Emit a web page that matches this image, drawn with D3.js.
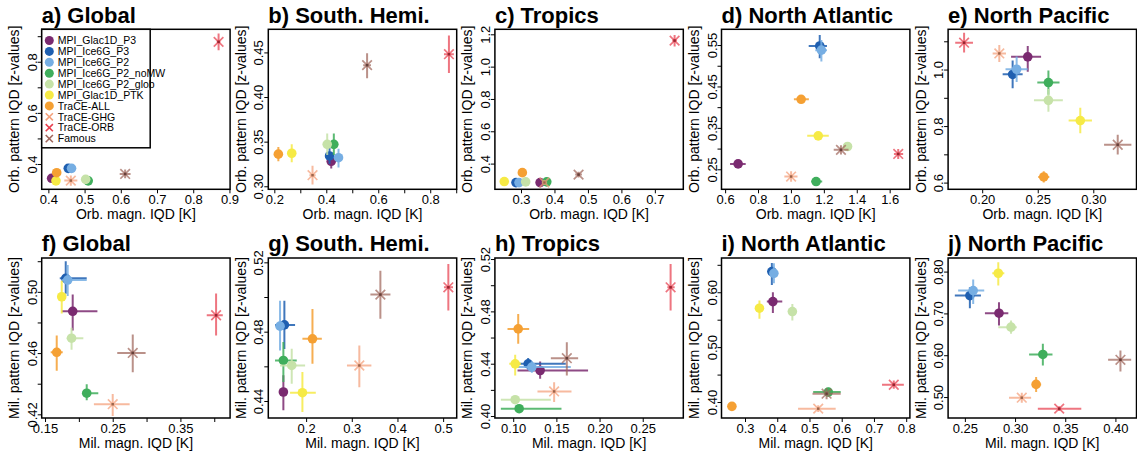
<!DOCTYPE html>
<html>
<head>
<meta charset="utf-8">
<script src="https://cdn.jsdelivr.net/npm/d3@7"></script>
<style>
  html, body { margin: 0; padding: 0; background: #ffffff; }
  svg { display: block; font-family: "Liberation Sans", Arial, Helvetica, sans-serif; }
</style>
</head>
<body>
<svg id="chart" width="1137" height="457"></svg>
<script>
// ---- simulations (legend order) ----
const models = ["MPI_Glac1D_P3", "MPI_Ice6G_P3", "MPI_Ice6G_P2", "MPI_Ice6G_P2_noMW",
  "MPI_Ice6G_P2_glob", "MPI_Glac1D_PTK", "TraCE-ALL", "TraCE-GHG", "TraCE-ORB", "Famous"];
const modelColors = ["#7a2a70", "#1f5fb0", "#76aee3", "#3fae5c", "#c6e2a8",
  "#f6ea45", "#f5a033", "#f4a07a", "#e8404f", "#a0665c"];
const modelShapes = ["dot", "dot", "dot", "dot", "dot", "dot", "dot", "cross", "cross", "cross"];

// ---- rows: [magnitude IQD, pattern IQD, magn. low, magn. high, pattern low, pattern high] ----
const orbGlobal = [
  [0.409, 0.344, 0.403, 0.415, 0.336, 0.352],
  [0.455, 0.383, 0.449, 0.461, 0.377, 0.389],
  [0.464, 0.383, 0.458, 0.470, 0.377, 0.389],
  [0.510, 0.334, 0.504, 0.516, 0.328, 0.340],
  [0.503, 0.340, 0.497, 0.509, 0.334, 0.346],
  [0.421, 0.334, 0.415, 0.427, 0.328, 0.340],
  [0.423, 0.366, 0.410, 0.432, 0.358, 0.374],
  [0.462, 0.335, 0.444, 0.480, 0.315, 0.355],
  [0.870, 0.878, 0.865, 0.875, 0.845, 0.911],
  [0.612, 0.361, 0.597, 0.627, 0.344, 0.378]
];
const orbSouth = [
  [0.419, 0.328, 0.412, 0.426, 0.320, 0.336],
  [0.4125, 0.334, 0.405, 0.420, 0.325, 0.343],
  [0.447, 0.332, 0.440, 0.454, 0.321, 0.342],
  [0.429, 0.347, 0.422, 0.436, 0.335, 0.359],
  [0.4035, 0.347, 0.396, 0.411, 0.335, 0.359],
  [0.267, 0.337, 0.258, 0.276, 0.327, 0.347],
  [0.2155, 0.336, 0.207, 0.224, 0.328, 0.344],
  [0.347, 0.3124, 0.335, 0.359, 0.302, 0.323],
  [0.872, 0.448, 0.853, 0.891, 0.427, 0.469],
  [0.557, 0.4357, 0.542, 0.572, 0.421, 0.449]
];
const orbTropics = [
  [0.357, 0.2825, 0.350, 0.364, 0.275, 0.290],
  [0.285, 0.2825, 0.278, 0.292, 0.275, 0.290],
  [0.294, 0.2825, 0.287, 0.301, 0.275, 0.290],
  [0.377, 0.287, 0.370, 0.384, 0.279, 0.295],
  [0.314, 0.287, 0.307, 0.321, 0.279, 0.295],
  [0.250, 0.289, 0.243, 0.257, 0.281, 0.297],
  [0.304, 0.344, 0.297, 0.311, 0.336, 0.352],
  [0.370, 0.283, 0.362, 0.378, 0.268, 0.298],
  [0.759, 1.161, 0.752, 0.766, 1.125, 1.195],
  [0.472, 0.332, 0.462, 0.482, 0.314, 0.350]
];
const orbNAtl = [
  [0.679, 0.263, 0.630, 0.725, 0.255, 0.271],
  [1.175, 0.5477, 1.108, 1.219, 0.518, 0.574],
  [1.185, 0.5377, 1.148, 1.219, 0.510, 0.562],
  [1.153, 0.2204, 1.123, 1.190, 0.214, 0.227],
  [1.344, 0.305, 1.320, 1.370, 0.297, 0.313],
  [1.166, 0.3307, 1.099, 1.230, 0.323, 0.339],
  [1.062, 0.419, 1.018, 1.109, 0.411, 0.427],
  [1.001, 0.2325, 0.960, 1.040, 0.220, 0.245],
  [1.652, 0.287, 1.626, 1.682, 0.275, 0.299],
  [1.304, 0.297, 1.260, 1.350, 0.286, 0.308]
];
const orbNPac = [
  [0.241, 1.045, 0.226, 0.253, 0.992, 1.083],
  [0.2274, 0.983, 0.2184, 0.2364, 0.934, 1.032],
  [0.231, 1.001, 0.221, 0.241, 0.956, 1.046],
  [0.2596, 0.954, 0.2496, 0.2696, 0.911, 0.997],
  [0.2596, 0.891, 0.2466, 0.2726, 0.851, 0.931],
  [0.2883, 0.8196, 0.2778, 0.2988, 0.775, 0.865],
  [0.2554, 0.620, 0.2504, 0.2604, 0.600, 0.640],
  [0.2154, 1.057, 0.2094, 0.2214, 1.027, 1.087],
  [0.1837, 1.095, 0.1757, 0.1917, 1.060, 1.130],
  [0.322, 0.734, 0.3097, 0.3343, 0.699, 0.769]
];
const milGlobal = [
  [0.1909, 0.4873, 0.1747, 0.2274, 0.4748, 0.4983],
  [0.1806, 0.5088, 0.1718, 0.2116, 0.4987, 0.5199],
  [0.1835, 0.5077, 0.1747, 0.2116, 0.4972, 0.5176],
  [0.2116, 0.4338, 0.2056, 0.2287, 0.4292, 0.4397],
  [0.1892, 0.4697, 0.1820, 0.2066, 0.4621, 0.4766],
  [0.1747, 0.4968, 0.1703, 0.1797, 0.4858, 0.5073],
  [0.1673, 0.4605, 0.1584, 0.1762, 0.4485, 0.4715],
  [0.2500, 0.4266, 0.2222, 0.2750, 0.4189, 0.4332],
  [0.4027, 0.4847, 0.3889, 0.4126, 0.4715, 0.4989],
  [0.2796, 0.4601, 0.2567, 0.2986, 0.4474, 0.4722]
];
const milSouth = [
  [0.1502, 0.4452, 0.143, 0.160, 0.4346, 0.4548],
  [0.1524, 0.4839, 0.1319, 0.1758, 0.4700, 0.4979],
  [0.1429, 0.4832, 0.137, 0.150, 0.4692, 0.4979],
  [0.1502, 0.4634, 0.1319, 0.1795, 0.451, 0.474],
  [0.1685, 0.4605, 0.143, 0.1978, 0.450, 0.4701],
  [0.1919, 0.4448, 0.1648, 0.2212, 0.4337, 0.4567],
  [0.2139, 0.4759, 0.1919, 0.2344, 0.4615, 0.4931],
  [0.3165, 0.4605, 0.2894, 0.3429, 0.448, 0.472],
  [0.5114, 0.5056, 0.5018, 0.5216, 0.4922, 0.519],
  [0.3626, 0.5014, 0.3407, 0.3846, 0.4874, 0.5152]
];
const milTropics = [
  [0.1312, 0.4348, 0.105, 0.1867, 0.4285, 0.4417],
  [0.1173, 0.4399, 0.1012, 0.1609, 0.4355, 0.4443],
  [0.1216, 0.4374, 0.105, 0.1667, 0.433, 0.4418],
  [0.1069, 0.4056, 0.0857, 0.1559, 0.4025, 0.4087],
  [0.1023, 0.4125, 0.0857, 0.1436, 0.4094, 0.4156],
  [0.1023, 0.4399, 0.0954, 0.1089, 0.431, 0.4468],
  [0.1058, 0.4666, 0.0934, 0.1185, 0.4552, 0.478],
  [0.1474, 0.4188, 0.1281, 0.1675, 0.4107, 0.4259],
  [0.2823, 0.4984, 0.2785, 0.287, 0.4806, 0.5162],
  [0.1621, 0.4442, 0.1436, 0.1752, 0.431, 0.4564]
];
const milNAtl = [
  [0.3865, 0.583, 0.3677, 0.4156, 0.5624, 0.600],
  [0.3833, 0.6376, 0.378, 0.389, 0.6133, 0.6533],
  [0.3896, 0.6345, 0.380, 0.402, 0.6164, 0.6527],
  [0.5583, 0.4182, 0.5115, 0.5969, 0.410, 0.426],
  [0.4469, 0.5648, 0.440, 0.454, 0.5485, 0.5788],
  [0.3448, 0.5709, 0.338, 0.352, 0.5515, 0.5848],
  [0.2594, 0.3921, 0.253, 0.266, 0.386, 0.398],
  [0.5271, 0.3879, 0.4646, 0.5813, 0.382, 0.394],
  [0.7615, 0.4315, 0.725, 0.7927, 0.424, 0.4394],
  [0.5531, 0.4152, 0.5094, 0.5969, 0.405, 0.425]
];
const milNPac = [
  [0.284, 0.7005, 0.270, 0.2933, 0.671, 0.7267],
  [0.255, 0.7426, 0.240, 0.266, 0.7124, 0.7625],
  [0.2583, 0.7546, 0.2433, 0.2693, 0.7227, 0.7808],
  [0.3277, 0.6018, 0.314, 0.3373, 0.5756, 0.6273],
  [0.296, 0.6671, 0.2833, 0.3017, 0.6515, 0.6830],
  [0.2833, 0.796, 0.2773, 0.2893, 0.7665, 0.8222],
  [0.321, 0.5302, 0.3167, 0.326, 0.5119, 0.5477],
  [0.3067, 0.4984, 0.294, 0.316, 0.4865, 0.5103],
  [0.344, 0.4722, 0.3227, 0.366, 0.4665, 0.478],
  [0.405, 0.5891, 0.3927, 0.4157, 0.5613, 0.6114]
];

// ---- axis limits ----
const xLims = [[0.3816, 0.9018], [0.1768, 0.9019], [0.222, 0.785], [0.578, 1.723], [0.1693, 0.3389],
  [0.1451, 0.4234], [0.1172, 0.5297], [0.0788, 0.297], [0.2271, 0.8115], [0.2333, 0.421]];
const yLims = [[0.301, 0.927], [0.2966, 0.4759], [0.241, 1.231], [0.2017, 0.588], [0.5763, 1.1424],
  [0.4176, 0.5221], [0.4302, 0.5225], [0.3985, 0.5208], [0.3709, 0.6624], [0.4499, 0.8325]];

// ---- tick labels ----
const xTickLabels = [
  ["0.4", "0.5", "0.6", "0.7", "0.8", "0.9"],
  ["0.2", "0.3", "0.4", "0.5", "0.6", "0.7", "0.8", "0.9"],
  ["0.3", "0.4", "0.5", "0.6", "0.7"],
  ["0.6", "0.8", "1.0", "1.2", "1.4", "1.6"],
  ["0.20", "0.25", "0.30"],
  ["0.15", "0.20", "0.25", "0.30", "0.35", "0.40"],
  ["0.2", "0.3", "0.4", "0.5"],
  ["0.10", "0.15", "0.20", "0.25"],
  ["0.3", "0.4", "0.5", "0.6", "0.7", "0.8"],
  ["0.25", "0.30", "0.35", "0.40"]
];
const yTickLabels = [
  ["0.4", "0.5", "0.6", "0.7", "0.8", "0.9"],
  ["0.30", "0.35", "0.40", "0.45"],
  ["0.4", "0.6", "0.8", "1.0", "1.2"],
  ["0.25", "0.30", "0.35", "0.40", "0.45", "0.50", "0.55"],
  ["0.6", "0.7", "0.8", "0.9", "1.0", "1.1"],
  ["0.42", "0.44", "0.46", "0.48", "0.50", "0.52"],
  ["0.44", "0.46", "0.48", "0.50", "0.52"],
  ["0.40", "0.42", "0.44", "0.46", "0.48", "0.50", "0.52"],
  ["0.40", "0.45", "0.50", "0.55", "0.60", "0.65"],
  ["0.50", "0.60", "0.70", "0.80"]
];

const titles = ["a) Global", "b) South. Hemi.", "c) Tropics", "d) North Atlantic", "e) North Pacific",
  "f) Global", "g) South. Hemi.", "h) Tropics", "i) North Atlantic", "j) North Pacific"];
const panelData = [orbGlobal, orbSouth, orbTropics, orbNAtl, orbNPac,
  milGlobal, milSouth, milTropics, milNAtl, milNPac];
const xTitles = ["Orb. magn. IQD [K]", "Mil. magn. IQD [K]"];
const yTitles = ["Orb. pattern IQD [z-values]", "Mil. pattern IQD [z-values]"];

// ---- layout ----
const svg = d3.select("#chart");
const PW = 188.4, PH = 160;
const lefts = [41.7, 268.3, 494.9, 721.5, 948.1];
const tops = [29.3, 258];
const TICK = 4, TICK_FONT = 13, LABEL_GAP = 12;

svg.append("rect").attr("width", 1137).attr("height", 457).attr("fill", "#fff");

// drop labels that would crowd the previously drawn one
function thinLabels(sel, horizontal) {
  let lastEnd = -Infinity;
  sel.each(function () {
    const g = d3.select(this);
    const t = g.select("text");
    const len = t.node().getComputedTextLength();
    const tr = g.attr("transform").match(/translate\(([-\d.e]+),([-\d.e]+)\)/);
    const c = horizontal ? +tr[1] : -(+tr[2]);
    if (c - len / 2 - lastEnd < LABEL_GAP) {
      t.remove();
    } else {
      lastEnd = c + len / 2;
    }
  });
}

function crossPath(cx, cy, s) {
  return `M${cx - s},${cy - s}L${cx + s},${cy + s}M${cx - s},${cy + s}L${cx + s},${cy - s}`;
}

panelData.forEach((rows, p) => {
  const col = p % 5, row = Math.floor(p / 5);
  const L = lefts[col], T = tops[row];
  const x = d3.scaleLinear().domain(xLims[p]).range([L, L + PW]);
  const y = d3.scaleLinear().domain(yLims[p]).range([T + PH, T]);
  const g = svg.append("g");

  // x axis
  const xt = xTickLabels[p];
  const xa = g.append("g").attr("transform", `translate(0,${T + PH})`)
    .call(d3.axisBottom(x).tickValues(xt.map(Number)).tickSize(TICK)
      .tickFormat((d, i) => xt[i]));
  xa.select(".domain").remove();
  xa.selectAll("line").attr("stroke", "#000").attr("stroke-width", 1);
  xa.selectAll("text").attr("y", 15).attr("dy", 0).attr("fill", "#000")
    .attr("font-size", TICK_FONT).attr("font-family", null);
  thinLabels(xa.selectAll(".tick"), true);

  // y axis (labels parallel to the axis)
  const yt = yTickLabels[p];
  const ya = g.append("g").attr("transform", `translate(${L},0)`)
    .call(d3.axisLeft(y).tickValues(yt.map(Number)).tickSize(TICK)
      .tickFormat((d, i) => yt[i]));
  ya.select(".domain").remove();
  ya.selectAll("line").attr("stroke", "#000").attr("stroke-width", 1);
  ya.selectAll("text").attr("x", 0).attr("y", -5).attr("dy", 0)
    .attr("transform", "rotate(-90)").attr("text-anchor", "middle")
    .attr("fill", "#000").attr("font-size", TICK_FONT).attr("font-family", null);
  thinLabels(ya.selectAll(".tick"), false);

  // axis titles
  g.append("text").attr("x", L + PW / 2).attr("y", T + PH + 29.5)
    .attr("text-anchor", "middle").attr("font-size", 14).text(xTitles[row]);
  g.append("text").attr("transform", `translate(${L - 22.5},${T + PH / 2}) rotate(-90)`)
    .attr("text-anchor", "middle").attr("font-size", 14).text(yTitles[row]);

  // panel title
  g.append("text").attr("x", L).attr("y", T - 6.6)
    .attr("font-size", 22).attr("font-weight", "bold").text(titles[p]);

  // marks: error bars, then symbol, one simulation at a time
  const clip = "clip" + p;
  svg.append("clipPath").attr("id", clip).append("rect")
    .attr("x", L).attr("y", T).attr("width", PW).attr("height", PH);
  const marks = g.append("g").attr("clip-path", `url(#${clip})`);
  rows.forEach((r, m) => {
    const [mx, my, xlo, xhi, ylo, yhi] = r;
    const color = modelColors[m];
    const isCross = modelShapes[m] === "cross";
    const op = isCross ? 0.72 : 0.85;
    const mg = marks.append("g").attr("stroke", color).attr("stroke-opacity", op);
    mg.append("line").attr("x1", x(xlo)).attr("x2", x(xhi)).attr("y1", y(my)).attr("y2", y(my))
      .attr("stroke-width", 2);
    mg.append("line").attr("x1", x(mx)).attr("x2", x(mx)).attr("y1", y(ylo)).attr("y2", y(yhi))
      .attr("stroke-width", 2);
    if (isCross) {
      mg.append("path").attr("d", crossPath(x(mx), y(my), 4.8))
        .attr("stroke-width", 1.7).attr("fill", "none");
      marks.append("rect").attr("x", x(mx) - 1.2).attr("y", y(my) - 1.2)
        .attr("width", 2.4).attr("height", 2.4)
        .attr("fill", d3.color(color).darker(1.3).formatHex());
    } else {
      marks.append("circle").attr("cx", x(mx)).attr("cy", y(my)).attr("r", 4.8).attr("fill", color);
    }
  });

  // frame
  g.append("rect").attr("x", L).attr("y", T).attr("width", PW).attr("height", PH)
    .attr("fill", "none").attr("stroke", "#000").attr("stroke-width", 1.5);
});

// legend inside panel a
const lg = svg.append("g");
lg.append("rect").attr("x", lefts[0]).attr("y", tops[0]).attr("width", 108.5).attr("height", 118.5)
  .attr("fill", "#fff").attr("stroke", "#000").attr("stroke-width", 1.5);
models.forEach((name, m) => {
  const cy = tops[0] + 11.2 + m * 10.9;
  const cx = 49.3;
  if (modelShapes[m] === "cross") {
    lg.append("path").attr("d", crossPath(cx, cy, 3.6))
      .attr("stroke", modelColors[m]).attr("stroke-width", 1.6).attr("fill", "none");
  } else {
    lg.append("circle").attr("cx", cx).attr("cy", cy).attr("r", 4.5).attr("fill", modelColors[m]);
  }
  lg.append("text").attr("x", 57.8).attr("y", cy).attr("dy", "0.36em")
    .attr("font-size", 10.5).text(name);
});
</script>
</body>
</html>
